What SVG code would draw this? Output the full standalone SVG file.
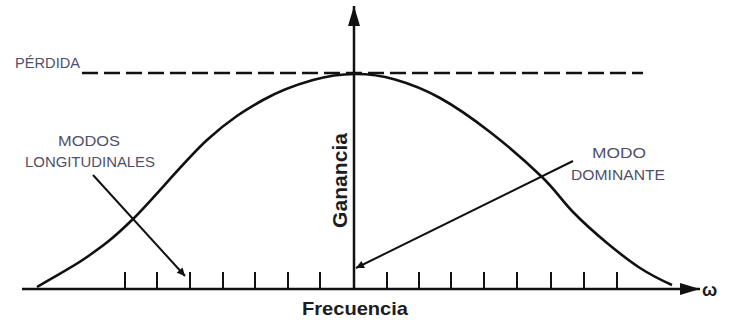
<svg xmlns="http://www.w3.org/2000/svg" width="729" height="323" viewBox="0 0 729 323">
<style>
.lbl{font-family:"Liberation Sans",Arial,sans-serif;font-size:14px;fill:#50506a;}
.ax{font-family:"Liberation Sans",Arial,sans-serif;font-weight:bold;fill:#1c1c24;}
.ln{stroke:#111;fill:none;}
</style>
<defs>
<marker id="ah" viewBox="0 0 10 10" refX="10" refY="5" markerWidth="10" markerHeight="8" markerUnits="userSpaceOnUse" orient="auto">
<path d="M0,0 L10,5 L0,10 Z" fill="#111"/>
</marker>
<marker id="axh" viewBox="0 0 20 12" refX="20" refY="6" markerWidth="20" markerHeight="12" markerUnits="userSpaceOnUse" orient="auto">
<path d="M0,0 L20,6 L0,12 Z" fill="#111"/>
</marker>
</defs>
<rect width="729" height="323" fill="#fff"/>
<g id="axes">
<line class="ln" x1="22" y1="289" x2="700" y2="289" stroke-width="2.5" marker-end="url(#axh)"/>
<line class="ln" x1="354" y1="289" x2="354" y2="6" stroke-width="2.5" marker-end="url(#axh)"/>
<g class="ln" stroke-width="2">
<line x1="125" y1="272" x2="125" y2="289"/>
<line x1="157" y1="272" x2="157" y2="289"/>
<line x1="190" y1="272" x2="190" y2="289"/>
<line x1="223" y1="272" x2="223" y2="289"/>
<line x1="255" y1="272" x2="255" y2="289"/>
<line x1="288" y1="272" x2="288" y2="289"/>
<line x1="320" y1="272" x2="320" y2="289"/>
<line x1="387" y1="272" x2="387" y2="289"/>
<line x1="419" y1="272" x2="419" y2="289"/>
<line x1="451" y1="272" x2="451" y2="289"/>
<line x1="484" y1="272" x2="484" y2="289"/>
<line x1="517" y1="272" x2="517" y2="289"/>
<line x1="551" y1="272" x2="551" y2="289"/>
<line x1="584" y1="272" x2="584" y2="289"/>
<line x1="617" y1="272" x2="617" y2="289"/>
</g>
<text class="ax" x="302" y="315" font-size="19" textLength="106" lengthAdjust="spacingAndGlyphs">Frecuencia</text>
<text class="ax" transform="translate(347,228) rotate(-90)" x="0" y="0" font-size="20" textLength="95" lengthAdjust="spacingAndGlyphs">Ganancia</text>
<text class="ax" x="702" y="296" font-size="18">ω</text>
</g>
<g id="loss">
<line class="ln" x1="82" y1="73" x2="643" y2="73" stroke-width="2.6" stroke-dasharray="16 6"/>
<text class="lbl" x="15" y="68" textLength="65" lengthAdjust="spacingAndGlyphs">PÉRDIDA</text>
</g>
<g id="gain-curve">
<path class="ln" stroke-width="2.6" d="M37,287 C53,277 71.2,268.2 87,257 C102.8,245.8 112,239.5 132,220 C152,200.5 185.2,160 207,140 C228.8,120 245.3,110 263,100 C280.7,90 297.7,84.3 313,80 C328.3,75.7 341.3,74.1 355,74 C368.7,73.9 380.8,75.5 395,79.5 C409.2,83.5 424.2,89.25 440,98 C455.8,106.75 473,118.8 490,132 C507,145.2 528.2,163.7 542,177 C555.8,190.3 562.2,201 573,212 C583.8,223 595.8,233.7 607,243 C618.2,252.3 629.2,261 640,268 C650.8,275 662,280.5 672,285"/>
</g>
<g id="connectors">
<line class="ln" x1="93" y1="175" x2="185" y2="276" stroke-width="2" marker-end="url(#ah)"/>
<line class="ln" x1="573" y1="161" x2="356" y2="268" stroke-width="2" marker-end="url(#ah)"/>
</g>
<g id="label-longitudinales">
<text class="lbl" x="58" y="146" textLength="62" lengthAdjust="spacingAndGlyphs">MODOS</text>
<text class="lbl" x="25" y="167" textLength="130" lengthAdjust="spacingAndGlyphs">LONGITUDINALES</text>
</g>
<g id="label-dominante">
<text class="lbl" x="592" y="158" textLength="54" lengthAdjust="spacingAndGlyphs">MODO</text>
<text class="lbl" x="571" y="180" textLength="94" lengthAdjust="spacingAndGlyphs">DOMINANTE</text>
</g>
</svg>
